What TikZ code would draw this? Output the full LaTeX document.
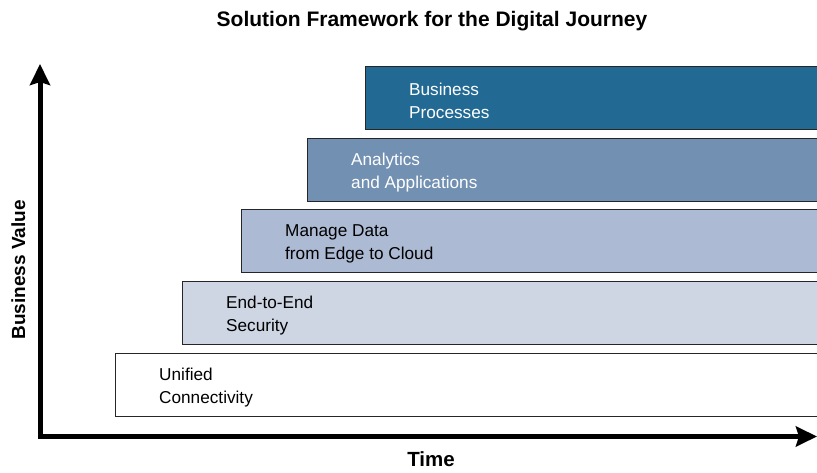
\documentclass[tikz,border=0pt]{standalone}
\usepackage{fontspec}
\setmainfont{Liberation Sans}
\usetikzlibrary{arrows.meta}
\definecolor{procblue}{HTML}{226A94}
\definecolor{appblue}{HTML}{7290B2}
\definecolor{datablue}{HTML}{ADBAD3}
\definecolor{secgray}{HTML}{CED6E3}
\begin{document}
\begin{tikzpicture}[x=1pt, y=1pt,
  layer/.style={draw=black!85, line width=1pt, minimum height=63pt, inner sep=0pt, anchor=north west},
  layertext/.style={font=\fontsize{17.2}{23}\selectfont, align=left, inner sep=0pt, anchor=west},
  axis/.style={line width=5pt, line join=miter, {Stealth[length=21pt, width=20pt, inset=3pt]}-{Stealth[length=21pt, width=20pt, inset=3pt]}}]
\useasboundingbox (0,0) rectangle (817,473);
\node[font=\fontsize{21}{25}\selectfont\bfseries, anchor=base] (title) at (432,446.5) {Solution Framework for the Digital Journey};
\foreach \nm/\lx/\ty/\col/\tcol/\txt in {conn/115/120/white/black/{Unified\\Connectivity},
    sec/182/192/secgray/black/{End-to-End\\Security},
    data/241/264/datablue/black/{Manage Data\\from Edge to Cloud},
    apps/307/335/appblue/white/{Analytics\\and Applications},
    proc/365/407/procblue/white/{Business\\Processes}}
{
    \node[layer, fill=\col, minimum width=830-\lx] (\nm) at (\lx,\ty) {};
    \node[layertext, text=\tcol] (\nm-text) at ([xshift=44pt, yshift=-3pt]\nm.west) {\txt};
}
\coordinate (origin) at (40,36.5);
\coordinate (vtop) at (40,409);
\coordinate (hend) at (817,36.5);
\draw[axis] (vtop)--(origin)--(hend);
\node[font=\fontsize{20.5}{24}\selectfont\bfseries, anchor=base] (time) at (431,6.3) {Time};
\node[font=\fontsize{19}{23}\selectfont\bfseries, anchor=base, rotate=90] (value) at (25,203) {Business Value};
\end{tikzpicture}
\end{document}
